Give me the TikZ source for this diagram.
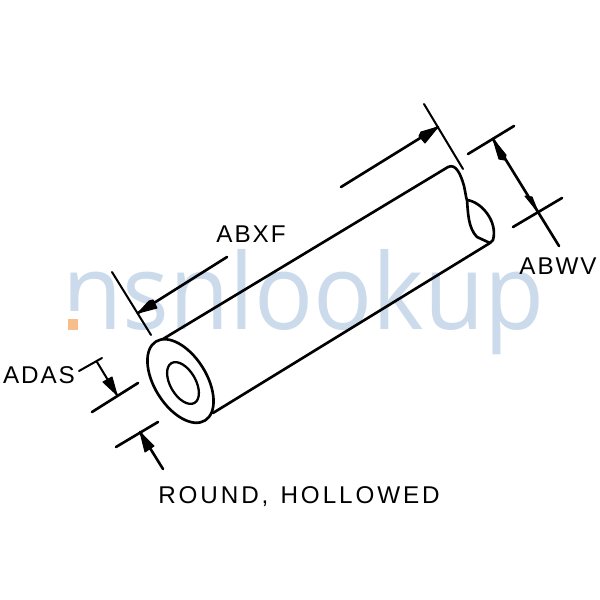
\documentclass[tikz,border=0pt]{standalone}
\usepackage{fontspec}
\setmainfont{Liberation Sans}
\newfontfamily\labelfont[LetterSpace=8]{Liberation Sans}
\newfontfamily\capfont[LetterSpace=12]{Liberation Sans}
\newfontfamily\markfont{Open Sans}
\definecolor{markblue}{RGB}{204,219,235}
\definecolor{markorange}{RGB}{247,190,140}
\tikzset{
  ink/.style={draw=black,line width=1.15pt,line cap=round,line join=round},
  thick ink/.style={draw=black,line width=1.5pt,line cap=round,line join=round},
  dimlabel/.style={font=\labelfont\fontsize{13.8}{14}\selectfont,text=black,inner sep=0pt},
  tip/.style={fill=black,draw=black,line width=0.6pt,line join=round},
}
\begin{document}
\begin{tikzpicture}[x=0.02cm,y=-0.02cm]
\useasboundingbox (0,0) rectangle (600,600);
% watermark
\node[font=\markfont\fontsize{60}{60}\selectfont,text=markblue,inner sep=0pt,anchor=base west,xscale=0.93] (wm) at (62,329) {nsnlookup};
\fill[white] (64,311) rectangle (82,332);
\fill[markorange] (68,319) rectangle (78,330);
% named points
\coordinate (topA) at (163,339); \coordinate (topB) at (448,167);
\coordinate (botA) at (213,413); \coordinate (botB) at (490,243);
\coordinate (neck) at (467,200);
% cylinder
\draw[thick ink] (180.5,381) ellipse[x radius=46.5,y radius=26,rotate=-58];
\draw[ink,line width=1.3pt] (183,383) ellipse[x radius=23,y radius=12.7,rotate=-60];
\draw[thick ink] (topA) -- (topB);
\draw[thick ink] (botA) -- (botB);
\draw[thick ink] (topB) .. controls (456,163) and (461,175) .. (464,186)
  .. controls (466,195) and (466,198) .. (neck)
  .. controls (468,212) and (468,228) .. (477,237) -- (botB);
\draw[thick ink] (neck) .. controls (482,202) and (498,222) .. (493,240) -- (botB);
% ABXF dimension
\coordinate (e1a) at (112,272); \coordinate (e1b) at (151,335);
\coordinate (a1a) at (227,257); \coordinate (a1t) at (138,313);
\draw[ink] (e1a) -- (e1b);
\draw[thick ink] (a1a) -- (a1t);
\fill[tip] (a1t) -- (149,301) -- (153,300) -- (157,308) -- cycle;
\coordinate (e2a) at (424,104); \coordinate (e2b) at (463,169);
\coordinate (a2a) at (341,187); \coordinate (a2t) at (438,127);
\draw[ink] (e2a) -- (e2b);
\draw[thick ink] (a2a) -- (a2t);
\fill[tip] (a2t) -- (421,132) -- (419,136) -- (425,143) -- cycle;
% ABWV dimension
\coordinate (e3a) at (468,154); \coordinate (e3b) at (514,126);
\coordinate (e4a) at (513,227); \coordinate (e4b) at (562,198);
\coordinate (a3a) at (493,139); \coordinate (a3b) at (559,246); \coordinate (a3t) at (538,212);
\draw[thick ink] (e3a) -- (e3b);
\draw[thick ink] (e4a) -- (e4b);
\draw[thick ink] (a3a) -- (a3b);
\fill[tip] (a3a) -- (506,155) -- (505,160) -- (499,159) -- cycle;
\fill[tip] (a3t) -- (525,196) -- (532,197) -- cycle;
% ADAS dimension
\coordinate (l1) at (79,371); \coordinate (l2) at (102,358);
\coordinate (e5a) at (92,412); \coordinate (e5b) at (138,383);
\coordinate (a4a) at (97,362); \coordinate (a4t) at (117,395);
\coordinate (e6a) at (116,447); \coordinate (e6b) at (158,422);
\coordinate (a5a) at (163,469); \coordinate (a5t) at (140,432);
\draw[ink] (l1) -- (l2);
\draw[thick ink] (e5a) -- (e5b);
\draw[ink] (a4a) -- (a4t);
\fill[tip] (a4t) -- (103,382) -- (112,377) -- cycle;
\draw[thick ink] (e6a) -- (e6b);
\draw[thick ink] (a5a) -- (a5t);
\fill[tip] (a5t) -- (154,446) -- (145,452) -- cycle;
% labels
\node[dimlabel] (abxf) at (251,234) {ABXF};
\node[dimlabel] (abwv) at (558,266) {ABWV};
\node[dimlabel] (adas) at (39,375) {ADAS};
\node[font=\capfont\fontsize{13.8}{14}\selectfont,inner sep=0pt] (cap) at (299,497) {ROUND,\hspace{0.5em}HOLLOWED};
\end{tikzpicture}
\end{document}
